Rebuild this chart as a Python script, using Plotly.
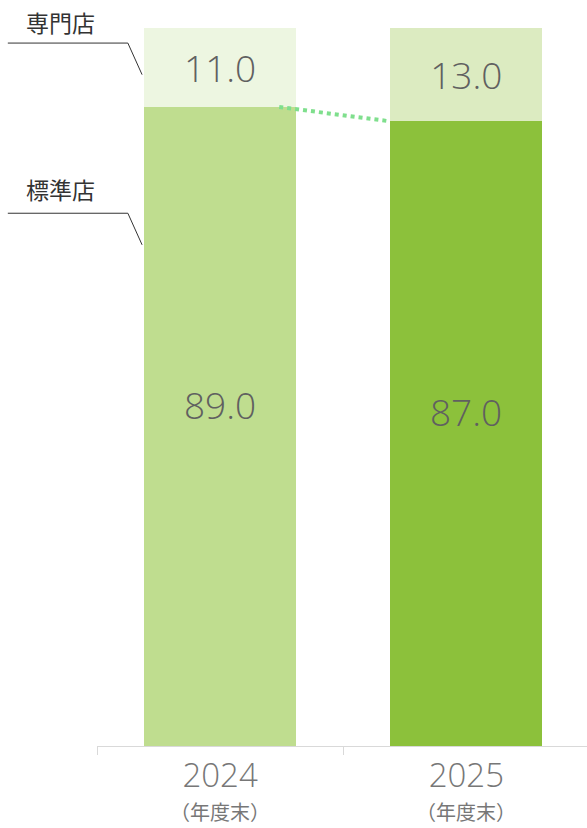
import plotly.graph_objects as go

# Store-type share by fiscal year end (%)
years = ["2024", "2025"]
year_note = "（年度末）"
standard = [89.0, 87.0]      # 標準店
specialty = [11.0, 13.0]     # 専門店
series_names = ["標準店", "専門店"]

standard_colors = ["#bfdd8f", "#8cc13b"]
specialty_colors = ["#edf6e1", "#dcebc1"]
num_family = "Open Sans, Noto Sans CJK JP"
value_font = dict(family=num_family, size=37, color="#606060", weight=350)

fig = go.Figure()
fig.add_bar(
    x=years, y=standard, name=series_names[0],
    marker=dict(color=standard_colors, line=dict(width=0)),
    hoverinfo="skip",
)
fig.add_bar(
    x=years, y=specialty, name=series_names[1],
    marker=dict(color=specialty_colors, line=dict(width=0)),
    text=[f"{v:.1f}" for v in specialty], textposition="inside",
    insidetextanchor="middle", textangle=0, textfont=value_font,
    hoverinfo="skip",
)

# standard-store values, set a little above the segment middle
for i, v in enumerate(standard):
    fig.add_annotation(xref="x", yref="y", x=i, y=v / 2, yshift=22,
                       text=f"{v:.1f}", showarrow=False, font=value_font,
                       xanchor="center", yanchor="middle")

# dotted connector between the tops of the standard-store segments
fig.add_shape(
    type="line", xref="x", yref="y",
    x0=0.24, y0=standard[0], x1=1 - 0.31, y1=standard[1],
    line=dict(color="#7fdf8d", width=4, dash="dot"), layer="above",
)

# series labels with leader lines on the left
label_font = dict(family="Noto Sans CJK JP", size=23, color="#333333")
leader = dict(color="#333333", width=1)
# 専門店
fig.add_annotation(xref="paper", yref="paper", x=-0.075, y=1.008, text=series_names[1],
                   showarrow=False, font=label_font, xanchor="center", yanchor="middle")
fig.add_shape(type="path", xref="paper", yref="paper",
              path="M -0.182,0.979 L 0.063,0.979 L 0.092,0.935", line=leader)
# 標準店
fig.add_annotation(xref="paper", yref="paper", x=-0.075, y=0.776, text=series_names[0],
                   showarrow=False, font=label_font, xanchor="center", yanchor="middle")
fig.add_shape(type="path", xref="paper", yref="paper",
              path="M -0.182,0.742 L 0.063,0.742 L 0.092,0.698", line=leader)

# fiscal-year-end note under each year
for i, _ in enumerate(years):
    fig.add_annotation(xref="x", yref="paper", x=i, y=0, yshift=-50, text=year_note,
                       showarrow=False, xanchor="center", yanchor="top", borderpad=0,
                       font=dict(family="Noto Sans CJK JP", size=20, color="#777777"))

fig.update_layout(
    barmode="stack",
    bargap=0.382,
    width=587, height=828,
    margin=dict(l=97, r=0, t=28, b=82),
    paper_bgcolor="white", plot_bgcolor="white",
    showlegend=False,
    uniformtext=dict(mode=False),
    xaxis=dict(
        type="category", range=[-0.5, 1.49],
        showline=True, linecolor="#d9d9d9", linewidth=1,
        ticks="outside", tickson="boundaries", ticklen=8, tickcolor="#d9d9d9",
        tickfont=dict(family=num_family, size=33, color="#777777", weight=350),
        ticklabelstandoff=0,
        showgrid=False, zeroline=False, fixedrange=True,
    ),
    yaxis=dict(range=[0, 100], visible=False, fixedrange=True),
)

fig.write_html("out.html")
